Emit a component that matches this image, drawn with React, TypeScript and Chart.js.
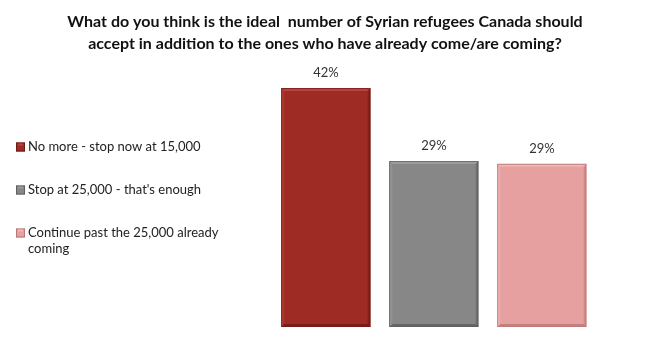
import React, { useEffect, useRef } from "react";
import { Chart, registerables } from "chart.js";

Chart.register(...registerables);

const titleLines = [
  "What do you think is the ideal  number of Syrian refugees Canada should",
  "accept in addition to the ones who have already come/are coming?",
];
const categories = [
  "No more - stop now at 15,000",
  "Stop at 25,000 - that's enough",
  "Continue past the 25,000 already coming",
];
const values = [42, 29.2, 28.7];
const barColors = ["#9E2B24", "#878787", "#E6A09F"];
const lightColors = ["#B4443C", "#9C9C9C", "#EFB6B5"];
const darkColors = ["#6E1A15", "#5E5E5E", "#B97877"];

const FONT = "Lato, 'Open Sans', sans-serif";

function wrap(ctx: CanvasRenderingContext2D, text: string, maxW: number): string[] {
  const words = text.split(" ");
  const lines: string[] = [];
  let cur = "";
  for (const w of words) {
    const t = cur ? cur + " " + w : w;
    if (ctx.measureText(t).width > maxW && cur) {
      lines.push(cur);
      cur = w;
    } else cur = t;
  }
  if (cur) lines.push(cur);
  return lines;
}

const bevelPlugin = {
  id: "bevel",
  afterDatasetsDraw(chart: any) {
    const ctx = chart.ctx as CanvasRenderingContext2D;
    const meta = chart.getDatasetMeta(0);
    meta.data.forEach((bar: any, i: number) => {
      const { x, y, base, width } = bar.getProps(["x", "y", "base", "width"], true);
      const l = x - width / 2, r = x + width / 2, t = y, b = base;
      const d = 3;
      ctx.save();
      ctx.fillStyle = lightColors[i];
      ctx.beginPath();
      ctx.moveTo(l, t); ctx.lineTo(r, t); ctx.lineTo(r - d, t + d); ctx.lineTo(l + d, t + d); ctx.closePath();
      ctx.fill();
      ctx.globalAlpha = 0.5;
      ctx.beginPath();
      ctx.moveTo(l, t); ctx.lineTo(l + d, t + d); ctx.lineTo(l + d, b - d); ctx.lineTo(l, b); ctx.closePath();
      ctx.fill();
      ctx.globalAlpha = 0.8;
      ctx.fillStyle = darkColors[i];
      ctx.beginPath();
      ctx.moveTo(l, b); ctx.lineTo(r, b); ctx.lineTo(r - d, b - d); ctx.lineTo(l + d, b - d); ctx.closePath();
      ctx.fill();
      ctx.globalAlpha = 0.5;
      ctx.beginPath();
      ctx.moveTo(r, t); ctx.lineTo(r - d, t + d); ctx.lineTo(r - d, b - d); ctx.lineTo(r, b); ctx.closePath();
      ctx.fill();
      ctx.globalAlpha = 0.7;
      ctx.strokeStyle = darkColors[i];
      ctx.lineWidth = 1;
      ctx.strokeRect(Math.round(l) + 0.5, Math.round(t) + 0.5, Math.round(r - l) - 1, Math.round(b - t) - 1);
      ctx.globalAlpha = 1;
      ctx.fillStyle = "#333333";
      ctx.font = `13px ${FONT}`;
      ctx.textAlign = "center";
      ctx.textBaseline = "middle";
      ctx.fillText(Math.round(values[i]) + "%", x, t - 15);
      ctx.restore();
    });
  },
};

const decorPlugin = {
  id: "decor",
  afterDraw(chart: any) {
    const ctx = chart.ctx as CanvasRenderingContext2D;
    ctx.save();
    // title across the full canvas
    ctx.font = `bold 16px ${FONT}`;
    ctx.fillStyle = "#111111";
    ctx.textAlign = "center";
    ctx.textBaseline = "middle";
    titleLines.forEach((ln, j) => ctx.fillText(ln, chart.width / 2, 22 + j * 22));
    // legend
    ctx.font = `13px ${FONT}`;
    ctx.textAlign = "left";
    const startY = 147;
    const step = 43;
    categories.forEach((c, i) => {
      const cy = startY + i * step;
      const bx = 16, bs = 9;
      ctx.fillStyle = barColors[i];
      ctx.fillRect(bx, cy - bs / 2, bs, bs);
      ctx.strokeStyle = darkColors[i];
      ctx.lineWidth = 1;
      ctx.strokeRect(bx + 0.5, cy - bs / 2 + 0.5, bs - 1, bs - 1);
      ctx.fillStyle = lightColors[i];
      ctx.fillRect(bx + 2, cy - bs / 2 + 1, bs - 4, 2);
      ctx.fillStyle = "#222222";
      const lines = wrap(ctx, c, 192);
      lines.forEach((ln, j) => ctx.fillText(ln, 28, cy + j * 16));
    });
    ctx.restore();
  },
};

export default function App() {
  const ref = useRef<HTMLCanvasElement | null>(null);
  useEffect(() => {
    document.body.style.margin = "0";
    const chart = new Chart(ref.current!, {
      type: "bar",
      data: {
        labels: categories,
        datasets: [
          {
            data: values,
            backgroundColor: barColors,
            borderWidth: 0,
            categoryPercentage: 1,
            barPercentage: 0.826,
          },
        ],
      },
      options: {
        animation: false,
        responsive: false,
        layout: { padding: { left: 272, right: 54, bottom: 17, top: 71 } },
        scales: {
          x: { display: false },
          y: { display: false, min: 0, max: 45 },
        },
        plugins: {
          legend: { display: false },
          tooltip: { enabled: false },
          title: { display: false },
        },
      },
      plugins: [bevelPlugin, decorPlugin],
    });
    return () => chart.destroy();
  }, []);
  return (
    <div style={{ width: 650, height: 344 }}>
      <canvas ref={ref} width={650} height={344} style={{ display: "block" }} />
    </div>
  );
}
